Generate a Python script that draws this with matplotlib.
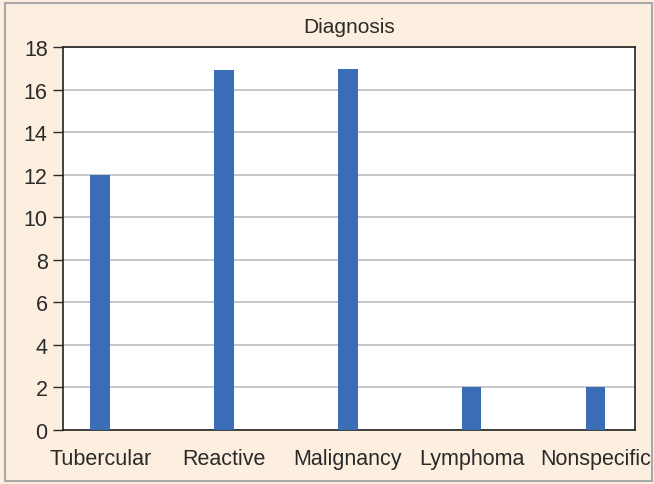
import matplotlib
matplotlib.use("Agg")
import matplotlib.pyplot as plt
from matplotlib.patches import Rectangle

categories = ["Tubercular", "Reactive", "Malignancy", "Lymphoma", "Nonspecific"]
counts = [12, 16.9, 16.95, 2, 2]

plt.rcParams['font.family'] = ['Liberation Sans', 'DejaVu Sans']

fig = plt.figure(figsize=(6.54, 4.85), dpi=100, facecolor="#fcefdf")
fig.patches.append(Rectangle((0.008, 0.006), 0.989, 0.985, transform=fig.transFigure,
                             fill=False, edgecolor="#a8a8a8", linewidth=1.5))
ax = fig.add_axes([0.0963, 0.1113, 0.8747, 0.7897])
ax.set_facecolor("white")

x = list(range(len(categories)))
ax.bar(x, counts, width=0.16, color="#3b6db6", zorder=3)

ax.set_xlim(-0.3, 4.32)
ax.set_ylim(0, 18)
ax.set_yticks(range(0, 19, 2))
ax.set_xticks(x)
ax.set_xticklabels(categories)
ax.yaxis.grid(True, color="#bcbcbc", linewidth=1.2, zorder=0)
ax.tick_params(axis="x", length=0, labelsize=15.5, pad=13, colors="#2a2a2a")
ax.tick_params(axis="y", length=7, width=1, labelsize=15.5, pad=4, colors="#2a2a2a", direction="out")
for s in ax.spines.values():
    s.set_color("#222222")
    s.set_linewidth(1.2)

ax.set_title("Diagnosis", fontsize=15, color="#2a2a2a", pad=11)

fig.savefig("out.png", dpi=100, facecolor=fig.get_facecolor())
